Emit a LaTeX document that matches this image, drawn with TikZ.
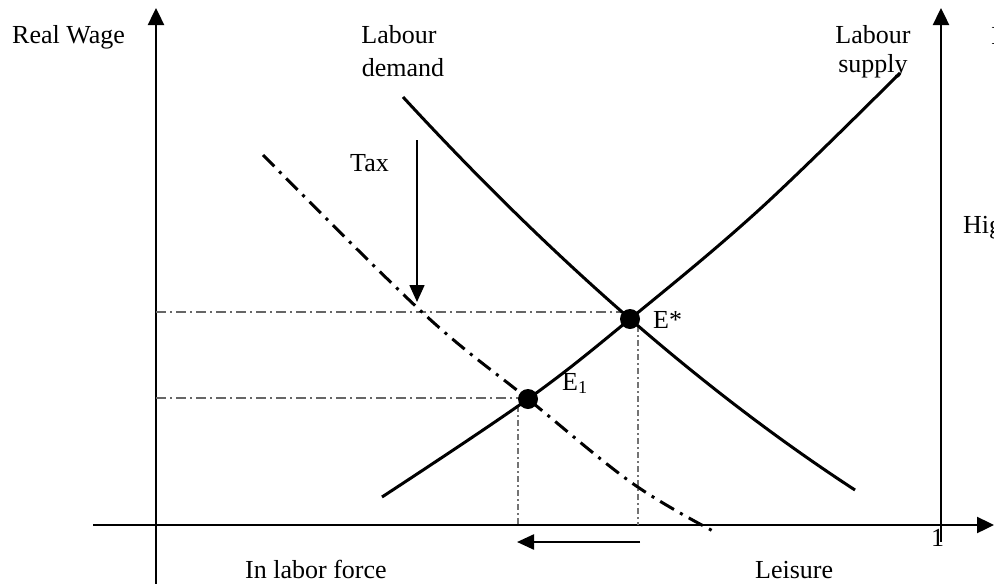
\documentclass[tikz,border=0pt]{standalone}
\usepackage{fontspec}
\setmainfont{Liberation Serif}
\usetikzlibrary{arrows.meta}
\begin{document}
\begin{tikzpicture}[x=1pt,y=-1pt,
  lbl/.style={font=\fontsize{26}{30}\selectfont, inner sep=0pt},
  axisline/.style={line width=2.4pt, -{Triangle[length=17pt,width=16pt]}},
  curveline/.style={line width=3pt},
  shiftedline/.style={line width=3pt, dash pattern=on 16pt off 7pt on 3pt off 7pt},
  guideline/.style={line width=1.4pt, black!60, dash pattern=on 10pt off 4pt on 2pt off 4pt},
  vguideline/.style={line width=1.4pt, black!55, dash pattern=on 6pt off 3pt on 2pt off 3pt},
  thinarrow/.style={line width=1.6pt, -{Triangle[length=17pt,width=15pt]}},
  eqdot/.style={circle, fill=black, minimum size=20pt, inner sep=0pt}
]
\useasboundingbox (0,0) rectangle (994,584);
\clip (0,0) rectangle (994,584);

% axes coordinates
\coordinate (ly0) at (156,590);
\coordinate (ly1) at (156,8);
\coordinate (ry0) at (941,542);
\coordinate (ry1) at (941,8);
\coordinate (x0) at (93,525);
\coordinate (x1) at (994,525);

\draw[axisline] (ly0) -- (ly1);
\draw[axisline] (ry0) -- (ry1);
\draw[axisline] (x0) -- (x1);

% equilibrium points
\coordinate (Es) at (630,319);
\coordinate (E1) at (528,399);

% guide lines
\coordinate (hs0) at (156,312);
\coordinate (hs1) at (630,312);
\coordinate (h10) at (156,398);
\coordinate (h11) at (522,398);
\coordinate (v10) at (518,406);
\coordinate (v11) at (518,525);
\coordinate (vs0) at (638,326);
\coordinate (vs1) at (638,525);
\draw[guideline] (hs0) -- (hs1);
\draw[guideline] (h10) -- (h11);
\draw[vguideline] (v10) -- (v11);
\draw[vguideline] (vs0) -- (vs1);

% labour demand
\coordinate (d0) at (403,97);
\coordinate (d1) at (855,490);
\draw[curveline] (d0) .. controls (555,262) and (706,393) .. (d1);

% labour supply
\draw[curveline] plot[smooth, tension=0.6] coordinates {(382,497) (528,399) (630,319) (760,209) (900,73)};

% shifted demand
\draw[shiftedline] plot[smooth, tension=0.6] coordinates {(263,155) (423,313) (528,399) (632,483) (713,531)};

% tax arrow
\coordinate (t0) at (417,140);
\coordinate (t1) at (417,302);
\draw[thinarrow] (t0) -- (t1);

% leisure shift arrow
\coordinate (a0) at (640,542);
\coordinate (a1) at (517,542);
\draw[line width=2.4pt, -{Triangle[length=17pt,width=15pt]}] (a0) -- (a1);

% dots
\node[eqdot] (dEs) at (Es) {};
\node[eqdot] (dE1) at (E1) {};

% labels
\node[lbl, anchor=base west] (rw) at (12,43) {Real Wage};
\node[lbl, anchor=base] (ld1) at (399,43) {Labour};
\node[lbl, anchor=base] (ld2) at (403,76) {demand};
\node[lbl, anchor=base] (ls1) at (873,43) {Labour};
\node[lbl, anchor=base] (ls2) at (873,72) {supply};
\node[lbl, anchor=base west] (tax) at (350,171) {Tax};
\node[lbl, anchor=base west] (les) at (653,328) {E*};
\node[lbl, anchor=base west] (le1) at (562,390) {E\textsubscript{1}};
\node[lbl, anchor=base west] (one) at (931,546) {1};
\node[lbl, anchor=base west] (lf) at (245,578) {In labor force};
\node[lbl, anchor=base west] (lei) at (755,578) {Leisure};
\node[lbl, anchor=base west] (hig) at (963,233) {High};
\node[lbl, anchor=base west] (cut) at (991,44) {I};
\end{tikzpicture}
\end{document}
